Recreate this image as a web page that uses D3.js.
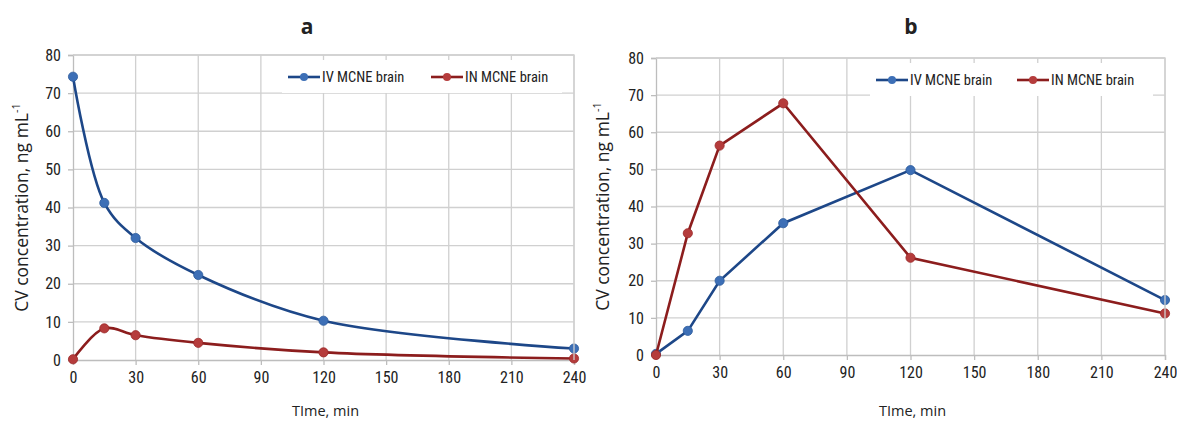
<!DOCTYPE html>
<html>
<head>
<meta charset="utf-8">
<script src="https://cdn.jsdelivr.net/npm/d3@7"></script>
<style>
  body { margin: 0; background: #fff; }
  text { fill: #222; }
</style>
</head>
<body>
<div id="chart"></div>
<script>
// sampling times, min
var times = [0, 15, 30, 60, 120, 240];

// panel a: concentrations, ng/mL
var ivA = [74.3, 41.2, 32.0, 22.3, 10.3, 3.0];
var inA = [0.2, 8.3, 6.5, 4.5, 2.0, 0.4];

// panel b
var ivB = [0.3, 6.5, 20.0, 35.5, 49.8, 14.8];
var inB = [0.0, 32.8, 56.4, 67.8, 26.2, 11.2];

var xTicks = [0, 30, 60, 90, 120, 150, 180, 210, 240];
var yTicks = [0, 10, 20, 30, 40, 50, 60, 70, 80];
var seriesNames = ["IV MCNE brain", "IN MCNE brain"];

var W = 1177, H = 423;
var narrow = "'Liberation Sans Narrow', 'Arial Narrow', 'Roboto Condensed', sans-serif";

var svg = d3.select("#chart").append("svg")
    .attr("width", W)
    .attr("height", H);

var colors = [
    {line: "#1d4788", dot: "#3d6fb6", edge: "#2b5a9c"},
    {line: "#8c1d1d", dot: "#b53c3c", edge: "#9a2828"}
];

function panel(opt) {
    var x = d3.scaleLinear().domain([0, 240]).range([opt.left, opt.right]);
    var y = d3.scaleLinear().domain([0, 80]).range([opt.bottom, opt.top]);
    var g = svg.append("g");

    // gridlines
    g.append("g").selectAll("line.h")
        .data(yTicks.slice(1))
        .enter().append("line")
        .attr("x1", opt.left).attr("x2", opt.right)
        .attr("y1", function(d) { return y(d); })
        .attr("y2", function(d) { return y(d); })
        .attr("stroke", "#d0d0d0").attr("stroke-width", 1.3);
    g.append("g").selectAll("line.v")
        .data(xTicks.slice(1))
        .enter().append("line")
        .attr("x1", function(d) { return x(d); })
        .attr("x2", function(d) { return x(d); })
        .attr("y1", opt.top).attr("y2", opt.bottom)
        .attr("stroke", "#d0d0d0").attr("stroke-width", 1.3);

    // axes
    var xAxis = g.append("g")
        .attr("transform", "translate(0," + opt.bottom + ")")
        .call(d3.axisBottom(x).tickValues(xTicks).tickSize(5).tickPadding(7));
    var yAxis = g.append("g")
        .attr("transform", "translate(" + opt.left + ",0)")
        .call(d3.axisLeft(y).tickValues(yTicks).tickSize(5).tickPadding(7));
    [xAxis, yAxis].forEach(function(a) {
        a.select(".domain").attr("stroke", "#bdbdbd").attr("stroke-width", 1.3);
        a.selectAll(".tick line").attr("stroke", "#bdbdbd").attr("stroke-width", 1.3);
        a.selectAll(".tick text")
            .attr("fill", "#222")
            .style("font-family", narrow)
            .style("font-size", "16px");
    });

    // legend box (white, covers gridlines)
    g.append("rect")
        .attr("x", opt.legX - 6).attr("y", opt.top + 5)
        .attr("width", opt.right - opt.legX - 6).attr("height", 33)
        .attr("fill", "#fff");

    var line = d3.line()
        .x(function(d, i) { return x(times[i]); })
        .y(function(d) { return y(d); })
        .curve(opt.smooth ? d3.curveCatmullRom.alpha(0.5) : d3.curveLinear);

    opt.series.forEach(function(vals, k) {
        var c = colors[k];
        g.append("path")
            .datum(vals)
            .attr("d", line)
            .attr("fill", "none")
            .attr("stroke", c.line)
            .attr("stroke-width", 2.6);
        g.append("g").selectAll("circle")
            .data(vals)
            .enter().append("circle")
            .attr("cx", function(d, i) { return x(times[i]); })
            .attr("cy", function(d) { return y(d); })
            .attr("r", 4.6)
            .attr("fill", c.dot)
            .attr("stroke", c.edge)
            .attr("stroke-width", 0.8);

        // legend entry
        var lx = opt.legX + k * opt.legGap, ly = opt.top + 22;
        g.append("line")
            .attr("x1", lx).attr("x2", lx + 32)
            .attr("y1", ly).attr("y2", ly)
            .attr("stroke", c.line).attr("stroke-width", 2.6);
        g.append("circle")
            .attr("cx", lx + 16).attr("cy", ly).attr("r", 4)
            .attr("fill", c.dot);
        g.append("text")
            .attr("x", lx + 34).attr("y", ly + 5)
            .style("font-family", narrow)
            .style("font-size", "14.5px")
            .text(seriesNames[k]);
    });

    // plot border on top and right
    g.append("path")
        .attr("d", "M" + opt.left + "," + opt.top + "H" + opt.right + "V" + opt.bottom)
        .attr("fill", "none")
        .attr("stroke", "#d0d0d0").attr("stroke-width", 1.3);

    // titles
    g.append("text")
        .attr("x", opt.titleX).attr("y", 34)
        .attr("text-anchor", "middle")
        .style("font-family", "'Open Sans', sans-serif")
        .style("font-weight", "bold")
        .style("font-size", "21px")
        .text(opt.title);

    g.append("text")
        .attr("x", (opt.left + opt.right) / 2 + 2).attr("y", 416)
        .attr("text-anchor", "middle")
        .style("font-family", "'Open Sans', sans-serif")
        .style("font-size", "14.5px")
        .text("TIme, min");

    var yl = g.append("text")
        .attr("transform", "translate(" + opt.yLabX + "," + ((opt.top + opt.bottom) / 2) + ") rotate(-90)")
        .attr("text-anchor", "middle")
        .style("font-family", "'Open Sans', sans-serif")
        .style("font-size", "17.5px");
    yl.append("tspan").text("CV concentration, ng mL");
    yl.append("tspan").attr("dy", -8).style("font-size", "11px").text("-1");
}

panel({
    left: 73, right: 574, top: 55, bottom: 360,
    series: [ivA, inA], smooth: true,
    legX: 288, legGap: 143,
    title: "a", titleX: 307, yLabX: 28
});

panel({
    left: 656, right: 1165, top: 58, bottom: 355,
    series: [ivB, inB], smooth: false,
    legX: 876, legGap: 141,
    title: "b", titleX: 911, yLabX: 609
});
</script>
</body>
</html>
